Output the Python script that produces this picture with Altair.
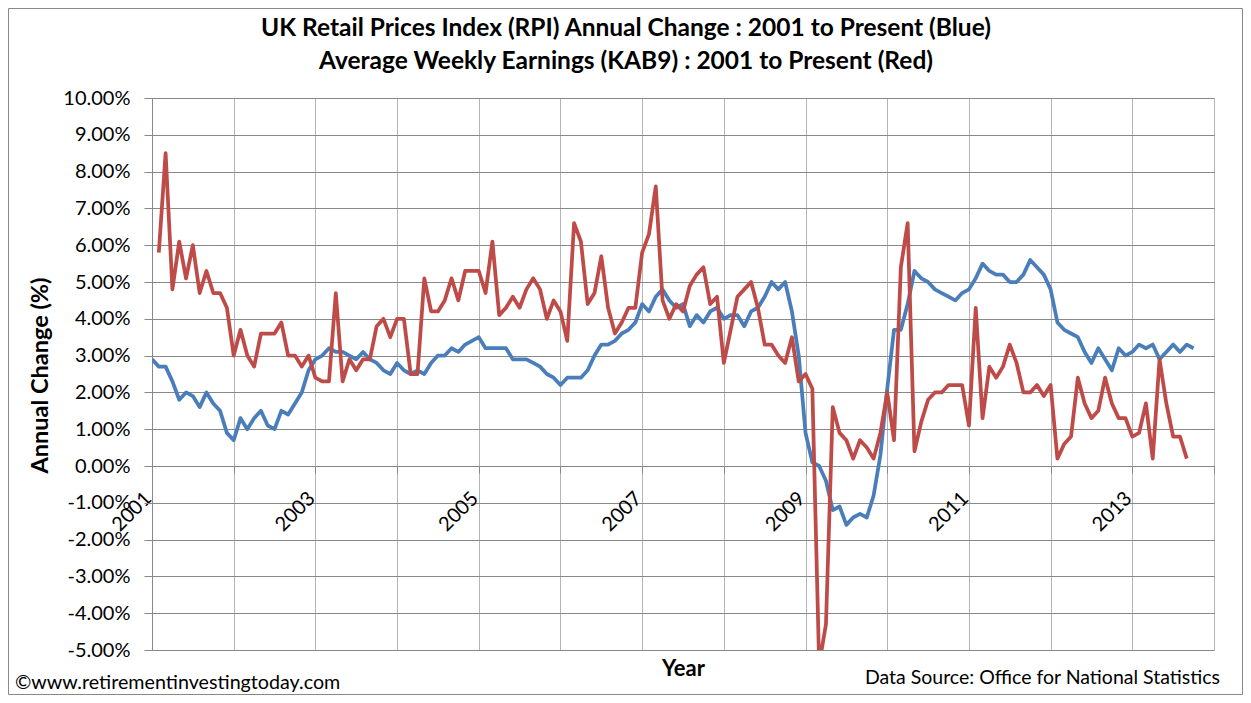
import altair as alt
import pandas as pd

# RPI annual change (%), monthly from Jan 2001
rpi = [
    2.9, 2.7, 2.7, 2.3, 1.8, 2.0, 1.9, 1.6, 2.0, 1.7, 1.5, 0.9,
    0.7, 1.3, 1.0, 1.3, 1.5, 1.1, 1.0, 1.5, 1.4, 1.7, 2.0, 2.6,
    2.9, 3.0, 3.2, 3.1, 3.1, 3.0, 2.9, 3.1, 2.9, 2.8, 2.6, 2.5,
    2.8, 2.6, 2.5, 2.6, 2.5, 2.8, 3.0, 3.0, 3.2, 3.1, 3.3, 3.4,
    3.5, 3.2, 3.2, 3.2, 3.2, 2.9, 2.9, 2.9, 2.8, 2.7, 2.5, 2.4,
    2.2, 2.4, 2.4, 2.4, 2.6, 3.0, 3.3, 3.3, 3.4, 3.6, 3.7, 3.9,
    4.4, 4.2, 4.6, 4.8, 4.5, 4.3, 4.4, 3.8, 4.1, 3.9, 4.2, 4.3,
    4.0, 4.1, 4.1, 3.8, 4.2, 4.3, 4.6, 5.0, 4.8, 5.0, 4.2, 3.0,
    0.9, 0.1, 0.0, -0.4, -1.2, -1.1, -1.6, -1.4, -1.3, -1.4, -0.8, 0.3,
    2.1, 3.7, 3.7, 4.4, 5.3, 5.1, 5.0, 4.8, 4.7, 4.6, 4.5, 4.7,
    4.8, 5.1, 5.5, 5.3, 5.2, 5.2, 5.0, 5.0, 5.2, 5.6, 5.4, 5.2,
    4.8, 3.9, 3.7, 3.6, 3.5, 3.1, 2.8, 3.2, 2.9, 2.6, 3.2, 3.0,
    3.1, 3.3, 3.2, 3.3, 2.9, 3.1, 3.3, 3.1, 3.3, 3.2,
]

# Average weekly earnings (KAB9) annual change (%), monthly from Feb 2001
awe = [
    5.8, 8.5, 4.8, 6.1, 5.1, 6.0, 4.7, 5.3, 4.7, 4.7, 4.3,
    3.0, 3.7, 3.0, 2.7, 3.6, 3.6, 3.6, 3.9, 3.0, 3.0, 2.7, 3.0,
    2.4, 2.3, 2.3, 4.7, 2.3, 2.9, 2.6, 2.9, 2.9, 3.8, 4.0, 3.5,
    4.0, 4.0, 2.5, 2.5, 5.1, 4.2, 4.2, 4.5, 5.1, 4.5, 5.3, 5.3,
    5.3, 4.7, 6.1, 4.1, 4.3, 4.6, 4.3, 4.8, 5.1, 4.8, 4.0, 4.5,
    4.2, 3.4, 6.6, 6.1, 4.4, 4.7, 5.7, 4.3, 3.6, 3.9, 4.3, 4.3,
    5.8, 6.3, 7.6, 4.5, 4.0, 4.4, 4.2, 4.9, 5.2, 5.4, 4.4, 4.6,
    2.8, 3.7, 4.6, 4.8, 5.0, 4.3, 3.3, 3.3, 3.0, 2.8, 3.5, 2.3,
    2.5, 2.1, -5.4, -4.3, 1.6, 0.9, 0.7, 0.2, 0.7, 0.5, 0.2, 0.9,
    2.0, 0.7, 5.4, 6.6, 0.4, 1.2, 1.8, 2.0, 2.0, 2.2, 2.2, 2.2,
    1.1, 4.3, 1.3, 2.7, 2.4, 2.7, 3.3, 2.8, 2.0, 2.0, 2.2, 1.9,
    2.2, 0.2, 0.6, 0.8, 2.4, 1.7, 1.3, 1.5, 2.4, 1.7, 1.3, 1.3,
    0.8, 0.9, 1.7, 0.2, 2.9, 1.7, 0.8, 0.8, 0.2,
]

rpi_months = pd.date_range("2001-01-01", periods=len(rpi), freq="MS")
awe_months = pd.date_range("2001-02-01", periods=len(awe), freq="MS")

title_lines = [
    "UK Retail Prices Index (RPI) Annual Change : 2001 to Present (Blue)",
    "Average Weekly Earnings (KAB9) : 2001 to Present (Red)",
]
y_ticks = list(range(-5, 11))
x_ticks = list(range(2001, 2015))
note_left = "©www.retirementinvestingtoday.com"
note_right = "Data Source: Office for National Statistics"

FONT = "Lato"
GRID = "#888888"
VGRID = "#b4b4b4"
BLUE = "#4a7ebb"
RED = "#be4b48"
W, H = 1062, 552


def series_frame(months, values):
    return pd.DataFrame({"year": months.year + (months.month - 1) / 12, "change": values})


x_scale = alt.Scale(domain=[2001, 2014], nice=False, zero=False)
y_scale = alt.Scale(domain=[-5, 10], nice=False, zero=False)

y_axis = alt.Axis(
    values=y_ticks,
    labelExpr="(datum.value < 0 ? '-' : '') + format(abs(datum.value), '.2f') + '%'",
    labelFont=FONT, labelFontSize=20, labelColor="black", labelPadding=14,
    tickSize=8, tickColor=GRID, domainColor=GRID, gridColor=GRID,
    title="Annual Change (%)", titleFont=FONT, titleFontSize=23.5, titleFontWeight="bold",
    titleColor="black", titleAngle=270, titleX=-112, titleY=H / 2 + 1,
    titleAlign="center", titleBaseline="middle",
)

grid_axis = alt.Axis(
    values=x_ticks, orient="bottom", grid=True, gridColor=VGRID,
    labels=False, ticks=False, domain=False,
    title="Year", titleFont=FONT, titleFontSize=22, titleFontWeight="bold",
    titleColor="black", titlePadding=8,
)

label_axis = alt.Axis(
    values=x_ticks, orient="bottom", offset=-184, grid=False,
    labelExpr="datum.value % 2 == 1 && datum.value < 2014 ? '' + datum.value : ''",
    labelAngle=315, labelAlign="right", labelBaseline="middle",
    labelPadding=22, labelOffset=-4, labelFlush=False, labelOverlap=False,
    labelFont=FONT, labelFontSize=20, labelColor="black",
    tickSize=7, tickColor=GRID, domainColor=GRID, title="",
)

blue = alt.Chart(series_frame(rpi_months, rpi)).mark_line(
    color=BLUE, strokeWidth=3.75, strokeJoin="round", clip=True
).encode(
    x=alt.X("year:Q", scale=x_scale, axis=grid_axis),
    y=alt.Y("change:Q", scale=y_scale, axis=y_axis),
)

red = alt.Chart(series_frame(awe_months, awe)).mark_line(
    color=RED, strokeWidth=3.75, strokeJoin="round", clip=True
).encode(
    x=alt.X("year:Q", scale=x_scale, axis=label_axis),
    y=alt.Y("change:Q", scale=y_scale, axis=y_axis),
)

heading = alt.Chart(pd.DataFrame({"note": ["\n".join(title_lines)]})).mark_text(
    align="center", baseline="alphabetic", font=FONT, fontSize=24.5, fontWeight="bold",
    color="black", lineBreak="\n", lineHeight=33,
).encode(x=alt.value(474), y=alt.value(-62), text="note:N")

left_note = alt.Chart(pd.DataFrame({"note": [note_left]})).mark_text(
    align="left", baseline="middle", font=FONT, fontSize=19.7, color="black"
).encode(x=alt.value(-137), y=alt.value(H + 33), text="note:N")

right_note = alt.Chart(pd.DataFrame({"note": [note_right]})).mark_text(
    align="right", baseline="middle", font=FONT, fontSize=19.5, color="black"
).encode(x=alt.value(W + 6), y=alt.value(H + 28), text="note:N")

border = alt.Chart(pd.DataFrame({"k": [0]})).mark_rect(
    fillOpacity=0, stroke=GRID, strokeWidth=1
).encode(
    x=alt.value(-143.5), x2=alt.value(W + 28.5),
    y=alt.value(-89.5), y2=alt.value(H + 44.5),
)

chart = (
    alt.layer(blue, red, heading, left_note, right_note, border)
    .resolve_scale(x="independent")
    .properties(
        width=W,
        height=H,
        autosize=alt.AutoSizeParams(type="none"),
        padding={"left": 144, "top": 90, "right": 29, "bottom": 45},
    )
    .configure_view(stroke="transparent")
)

chart.save("out.html", embed_options={"renderer": "svg", "actions": False})
